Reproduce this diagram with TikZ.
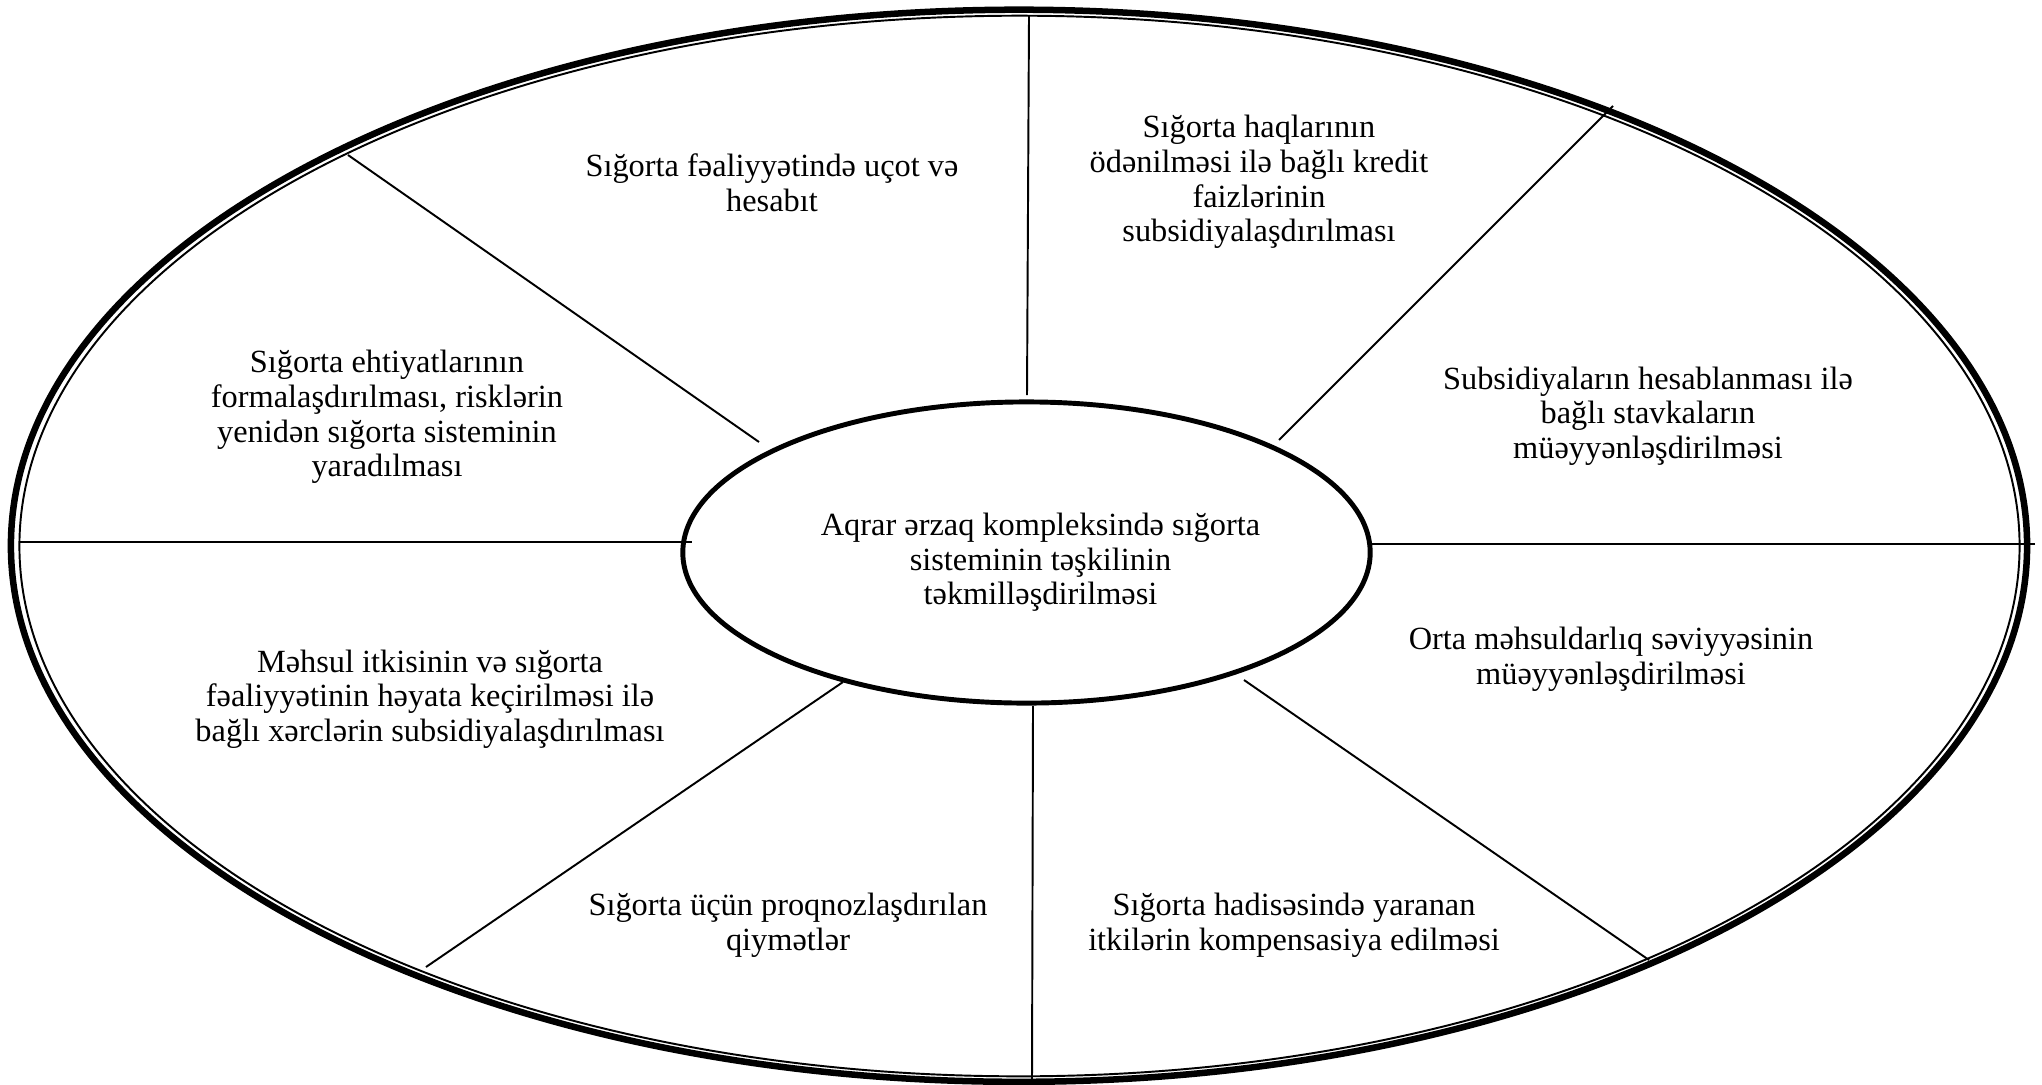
\documentclass[tikz,border=0pt]{standalone}
\usepackage{fontspec}
\setmainfont{Liberation Serif}
\usetikzlibrary{shapes.geometric}
\tikzset{
    sector/.style={align=center, font=\fontsize{9.2}{9.85}\selectfont},
    spoke/.style={line width=0.55pt},
    hub/.style={ellipse, draw, line width=1.4pt, inner sep=0pt, minimum width=6.87cm, minimum height=3.01cm},
}
\begin{document}
\begin{tikzpicture}[x=0.01cm, y=-0.01cm]
    \useasboundingbox (0,0) rectangle (2042,1084);
    % outer ring: thick line outside, thin line inside
    \draw[line width=1.85pt] (1019,545.75) ellipse [x radius=10.075cm, y radius=5.3575cm];
    \draw[line width=0.55pt] (1019.5,546) ellipse [x radius=9.995cm, y radius=5.3cm];

    \draw(1026.5,552.5) node [hub, label={[sector, shift={(0.14cm,-0.1cm)}]center:Aqrar ərzaq kompleksində sığorta\\ sisteminin təşkilinin\\ təkmilləşdirilməsi}](core){};

    \draw(772, 183) node [sector](uchot){Sığorta fəaliyyətində uçot və\\ hesabıt};
    \draw(1259, 182) node [sector](haqlar){Sığorta haqlarının\\ ödənilməsi ilə bağlı kredit\\ faizlərinin\\ subsidiyalaşdırılması};
    \draw(1648, 416) node [sector](stavka){Subsidiyaların hesablanması ilə\\ bağlı stavkaların\\ müəyyənləşdirilməsi};
    \draw(1611, 659) node [sector](orta){Orta məhsuldarlıq səviyyəsinin\\ müəyyənləşdirilməsi};
    \draw(1294, 925) node [sector](hadise){Sığorta hadisəsində yaranan\\ itkilərin kompensasiya edilməsi};
    \draw(788, 925) node [sector](qiymet){Sığorta üçün proqnozlaşdırılan\\ qiymətlər};
    \draw(430, 699) node [sector](xerc){Məhsul itkisinin və sığorta\\ fəaliyyətinin həyata keçirilməsi ilə\\ bağlı xərclərin subsidiyalaşdırılması};
    \draw(387, 417) node [sector](ehtiyat){Sığorta ehtiyatlarının\\ formalaşdırılması, risklərin\\ yenidən sığorta sisteminin\\ yaradılması};

    % spoke ends
    \coordinate (rimN) at (1029,16);   \coordinate (hubN) at (1027,395);
    \coordinate (rimNE) at (1613,106); \coordinate (hubNE) at (1279,440);
    \coordinate (rimE) at (2035,544);  \coordinate (hubE) at (1370,544);
    \coordinate (rimSE) at (1649,960); \coordinate (hubSE) at (1244,680);
    \coordinate (rimS) at (1032,1081); \coordinate (hubS) at (1033,706);
    \coordinate (rimSW) at (426,967);  \coordinate (hubSW) at (843,682);
    \coordinate (rimW) at (20,542);    \coordinate (hubW) at (692,542);
    \coordinate (rimNW) at (348,155);  \coordinate (hubNW) at (759,442);

    \draw[spoke] (rimN) -- (hubN);
    \draw[spoke] (rimNE) -- (hubNE);
    \draw[spoke] (rimE) -- (hubE);
    \draw[spoke] (rimSE) -- (hubSE);
    \draw[spoke] (rimS) -- (hubS);
    \draw[spoke] (rimSW) -- (hubSW);
    \draw[spoke] (rimW) -- (hubW);
    \draw[spoke] (rimNW) -- (hubNW);
\end{tikzpicture}
\end{document}
